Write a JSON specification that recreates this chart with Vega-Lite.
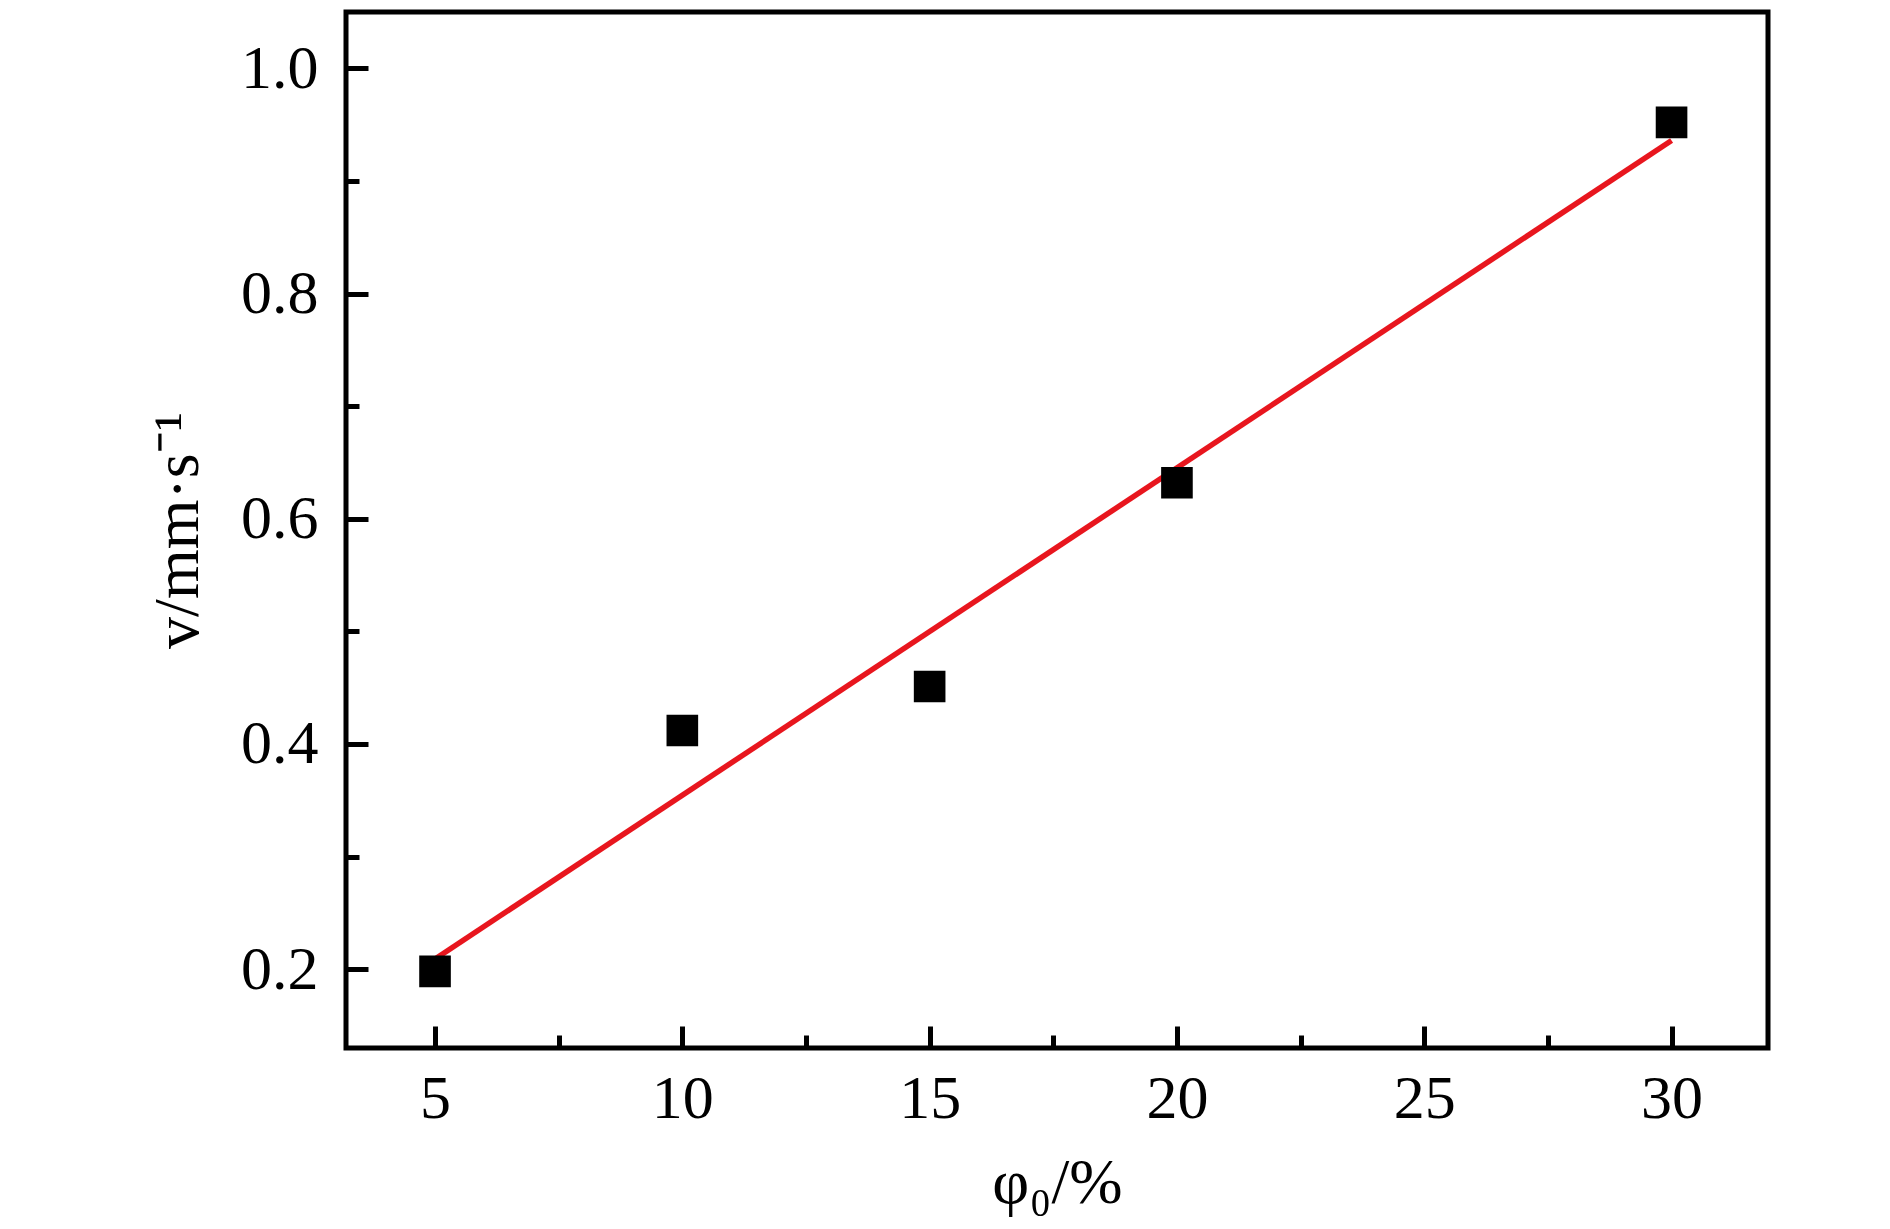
{
  "$schema": "https://vega.github.io/schema/vega-lite/v6.json",
  "width": 1422,
  "height": 1036,
  "autosize": {"type": "none"},
  "padding": {"left": 346, "top": 12, "right": 122, "bottom": 181},
  "background": "white",
  "config": {
    "view": {"stroke": "#000", "strokeWidth": 5},
    "axis": {
      "grid": false,
      "domain": false,
      "labelFont": "Liberation Serif",
      "titleFont": "Liberation Serif",
      "labelFontSize": 62,
      "titleFontSize": 64,
      "labelColor": "#000",
      "titleColor": "#000",
      "titleFontWeight": "normal",
      "tickColor": "#000",
      "tickWidth": 5
    }
  },
  "resolve": {"axis": {"x": "independent", "y": "independent"}},
  "layer": [
    {
      "data": {"values": [{"phi": 5, "v": 0.2091}, {"phi": 30, "v": 0.9359}]},
      "mark": {"type": "line", "color": "#E8161E", "strokeWidth": 5.5},
      "encoding": {
        "x": {
          "field": "phi", "type": "quantitative",
          "scale": {"domain": [3.2, 31.95], "nice": false, "zero": false},
          "axis": {"orient": "bottom", "values": [7.5, 12.5, 17.5, 22.5, 27.5], "tickSize": -13, "labels": false, "title": null}
        },
        "y": {
          "field": "v", "type": "quantitative",
          "scale": {"domain": [0.13, 1.05], "nice": false, "zero": false},
          "axis": {"orient": "left", "values": [0.3, 0.5, 0.7, 0.9], "tickSize": -13, "labels": false, "title": null}
        }
      }
    },
    {
      "data": {"values": [
        {"phi": 5, "v": 0.198},
        {"phi": 10, "v": 0.412},
        {"phi": 15, "v": 0.451},
        {"phi": 20, "v": 0.632},
        {"phi": 30, "v": 0.952}
      ]},
      "mark": {"type": "point", "shape": "square", "filled": true, "size": 1000, "color": "#000", "opacity": 1, "strokeWidth": 0},
      "encoding": {
        "x": {
          "field": "phi", "type": "quantitative",
          "scale": {"domain": [3.2, 31.95], "nice": false, "zero": false},
          "axis": {"orient": "bottom", "values": [5, 10, 15, 20, 25, 30], "tickSize": -22, "labelPadding": 42, "title": "φ₀/%", "titlePadding": 22}
        },
        "y": {
          "field": "v", "type": "quantitative",
          "scale": {"domain": [0.13, 1.05], "nice": false, "zero": false},
          "axis": {"orient": "left", "values": [0.2, 0.4, 0.6, 0.8, 1.0], "format": ".1f", "tickSize": -22, "labelPadding": 50, "title": "v/mm·s⁻¹", "titlePadding": 30}
        }
      }
    }
  ]
}
